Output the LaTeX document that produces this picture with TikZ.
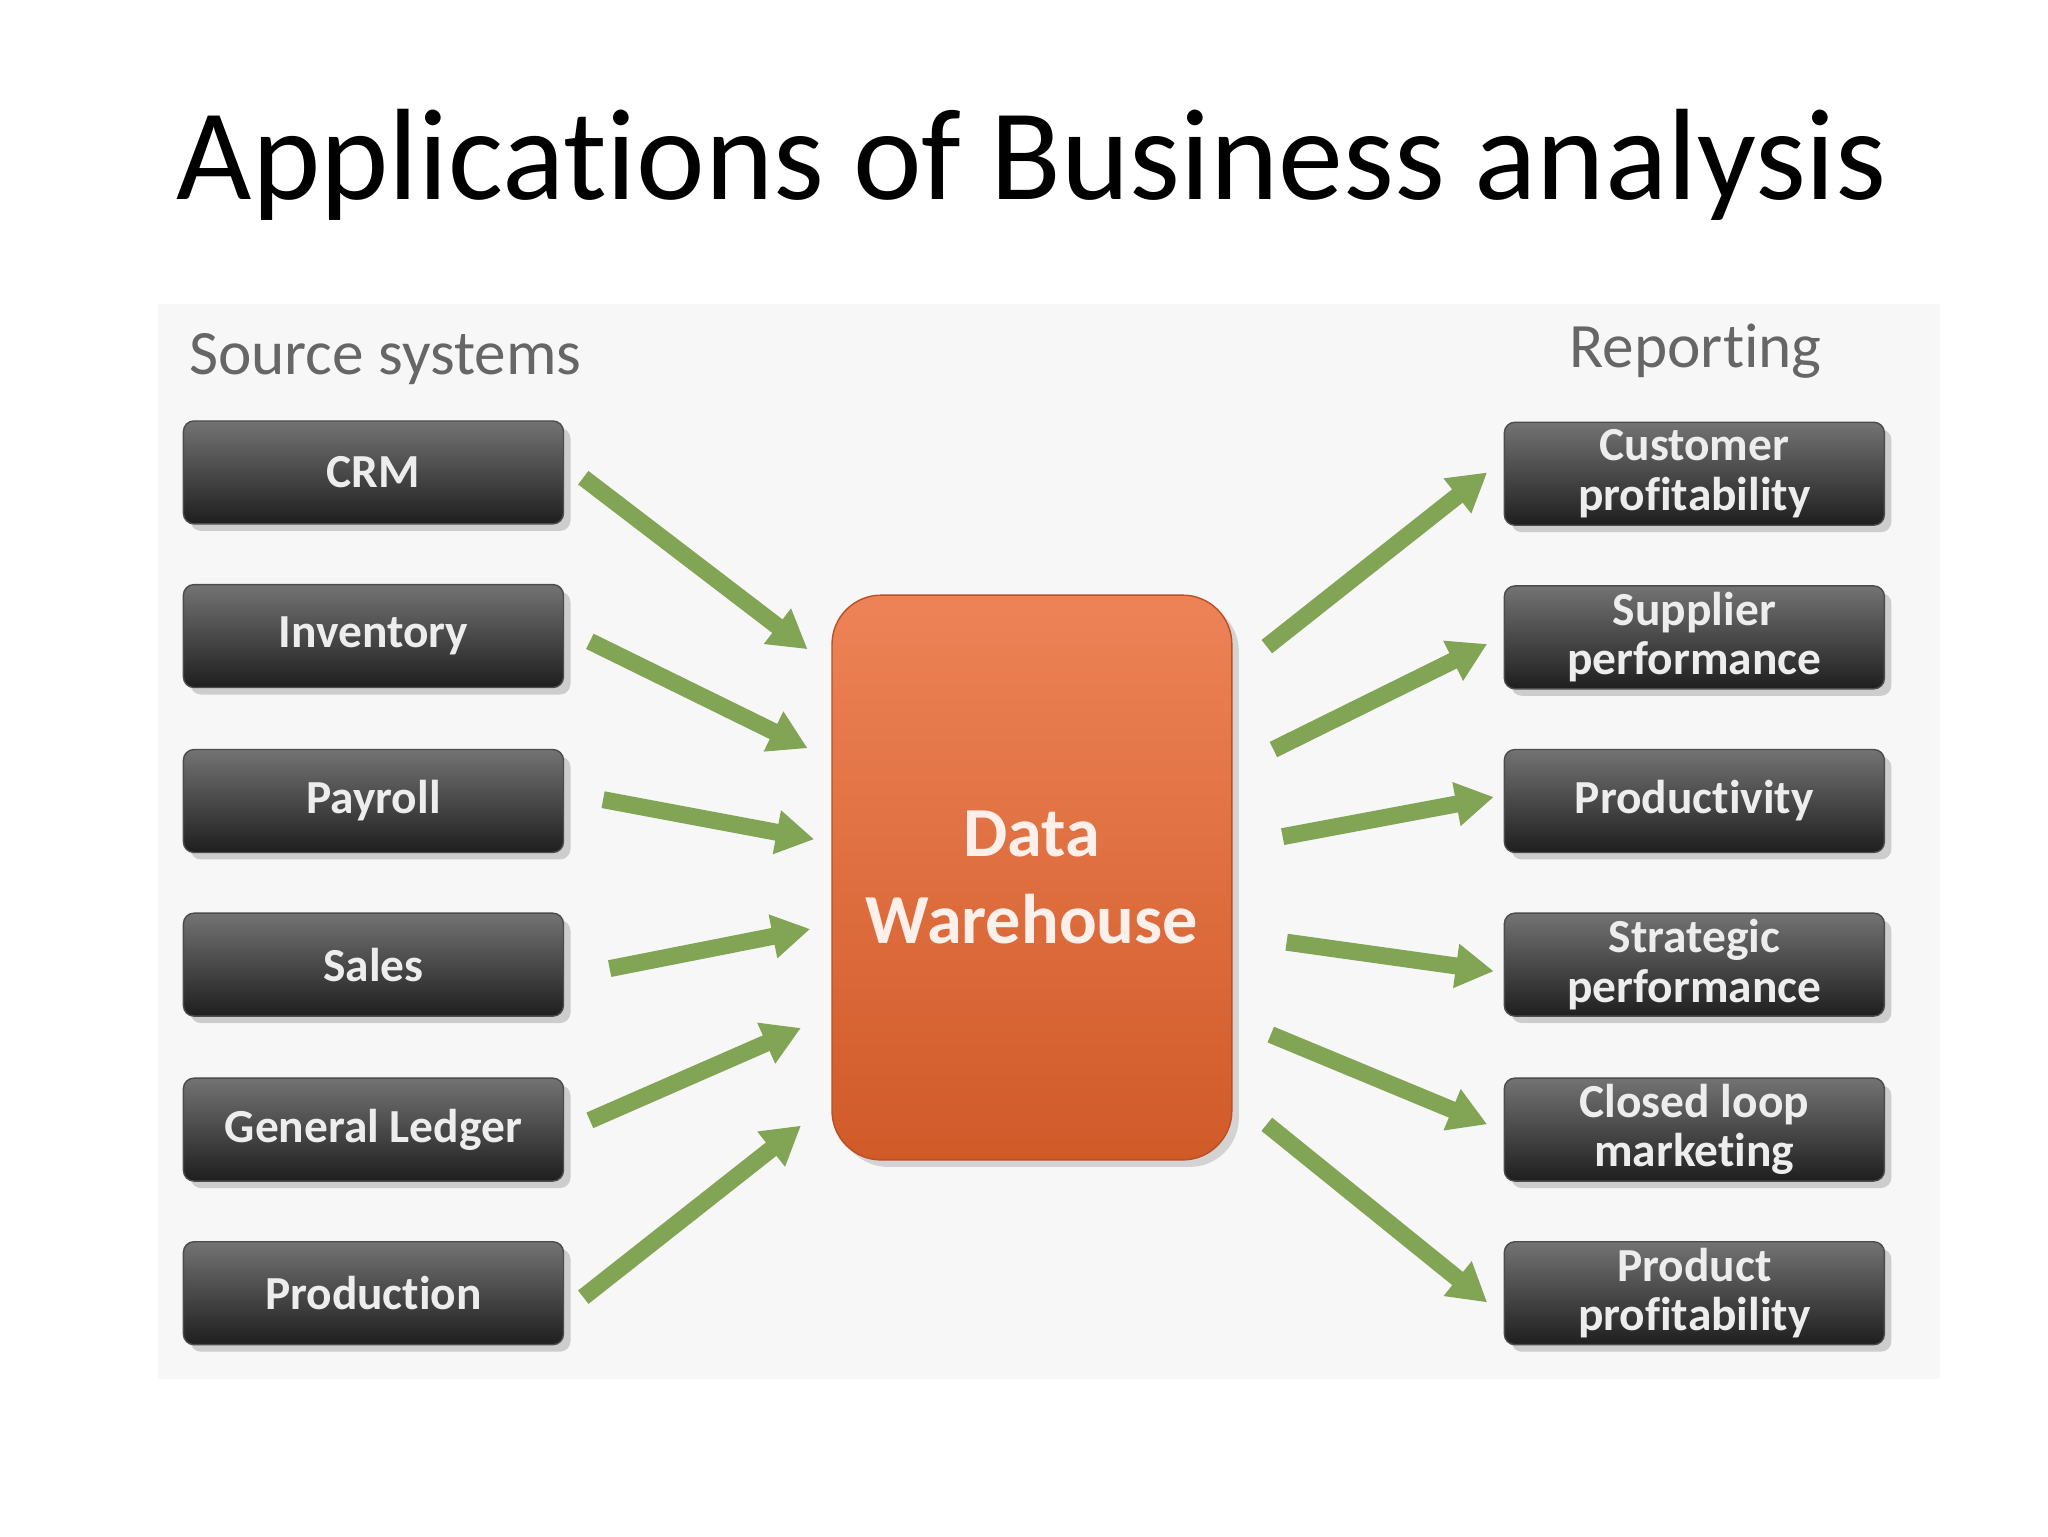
\documentclass[tikz,border=0pt]{standalone}
\usepackage{fontspec}
\setmainfont{Carlito}[Ligatures=NoCommon]
\usetikzlibrary{arrows.meta,shadows}
\definecolor{garrow}{RGB}{130,165,85}
\definecolor{orng}{RGB}{232,100,45}
\tikzset{
 sbox/.style={rounded corners=3pt,minimum width=288*0.0132cm,minimum height=78*0.0132cm,inner sep=1pt,
   top color=black!55,bottom color=black!88,draw=black!70,text=white!93!black,font=\bfseries\fontsize{13.5}{14}\selectfont,
   align=center,drop shadow={opacity=0.35,shadow xshift=2pt,shadow yshift=-2pt}},
 garr/.style={line width=0.17cm,draw=garrow,-{Triangle[length=0.38cm,width=0.42cm]},shorten >=0pt},
 hdr/.style={text=black!60,font=\fontsize{18}{18}\selectfont}
}
\begin{document}
\begin{tikzpicture}[x=0.0132cm,y=-0.0132cm]
\useasboundingbox (0,0) rectangle (1552,1164);
\fill[black!3] (120,230) rectangle (1470,1045);
\node[font=\fontsize{37}{37}\selectfont] (title) at (782,125) {Applications of Business analysis};
\node[hdr] (src) at (292,272) {Source systems};
\node[hdr] (rep) at (1285,266) {Reporting};
\node[rounded corners=14pt,minimum width=303*0.0132cm,minimum height=428*0.0132cm,inner sep=1pt,
  top color=orng!80!white,bottom color=orng!90!black,draw=orng!80!black,text=white!90!orng,
  font=\bfseries\fontsize{20}{25}\selectfont,align=center,
  drop shadow={opacity=0.3,shadow xshift=2pt,shadow yshift=-2pt}] (dw) at (782,665) {Data\\Warehouse};
\node[sbox] (l1) at (283,358) {CRM};
\node[sbox] (l2) at (283,482) {Inventory};
\node[sbox] (l3) at (283,607) {Payroll};
\node[sbox] (l4) at (283,731) {Sales};
\node[sbox] (l5) at (283,856) {General Ledger};
\node[sbox] (l6) at (283,980) {Production};
\node[sbox] (r1) at (1284,359) {Customer\\profitability};
\node[sbox] (r2) at (1284,483) {Supplier\\performance};
\node[sbox] (r3) at (1284,607) {Productivity};
\node[sbox] (r4) at (1284,731) {Strategic\\performance};
\node[sbox] (r5) at (1284,856) {Closed loop\\marketing};
\node[sbox] (r6) at (1284,980) {Product\\profitability};
\coordinate (a1) at (612,492); \coordinate (a2) at (612,567);
\coordinate (a3) at (617,636); \coordinate (a4) at (614,704);
\coordinate (a5) at (607,779); \coordinate (a6) at (607,853);
\coordinate (b1) at (1127,358); \coordinate (b2) at (1127,488);
\coordinate (b3) at (1132,604); \coordinate (b4) at (1132,736);
\coordinate (b5) at (1127,852); \coordinate (b6) at (1127,987);
\coordinate (s1) at (442,362); \coordinate (s2) at (447,486);
\coordinate (s3) at (457,606); \coordinate (s4) at (462,734);
\coordinate (s5) at (447,849); \coordinate (s6) at (442,983);
\coordinate (t1) at (960,490); \coordinate (t2) at (965,568);
\coordinate (t3) at (972,634); \coordinate (t4) at (975,714);
\coordinate (t5) at (963,784); \coordinate (t6) at (960,852);
\foreach \i in {1,...,6}{\draw[garr] (s\i) -- (a\i); \draw[garr] (t\i) -- (b\i);}
\end{tikzpicture}
\end{document}
